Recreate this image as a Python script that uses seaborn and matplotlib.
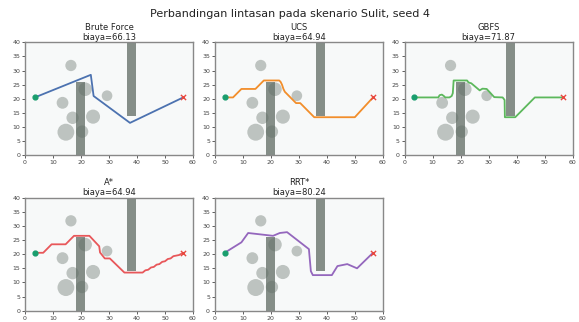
import matplotlib
matplotlib.use("Agg")
import matplotlib.pyplot as plt
import matplotlib.patches as mpatches
import seaborn as sns
import pandas as pd

# ---- data ----
title = "Perbandingan lintasan pada skenario Sulit, seed 4"
algorithms = ["Brute Force", "UCS", "GBFS", "A*", "RRT*"]
costs = [66.13, 64.94, 71.87, 64.94, 80.24]
colors = ["#4c72b0", "#f28e2b", "#5cb85c", "#e8575a", "#9467bd"]

start = (3.5, 20.5)
goal = (56.5, 20.5)

rect_x = [18.2, 36.3]
rect_y = [0.0, 14.0]
rect_w = [3.2, 3.2]
rect_h = [26.0, 26.0]

circle_x = [16.4, 21.5, 13.4, 29.3, 17.0, 24.3, 14.6, 20.4]
circle_y = [31.8, 23.4, 18.6, 21.1, 13.3, 13.7, 8.2, 8.4]
circle_r = [2.0, 2.4, 2.1, 1.9, 2.2, 2.5, 3.0, 2.2]

bf_x = [3.5, 23.5, 24.5, 37.5, 56.5]
bf_y = [20.5, 28.5, 21.0, 11.5, 20.5]

ucs_x = [3.5, 6.5, 9.5, 14.5, 17.5, 23.0, 23.5, 24.0, 24.5, 25.0, 29.0, 30.5, 35.5, 50.0, 56.5]
ucs_y = [20.5, 20.5, 23.5, 23.5, 26.5, 26.5, 26.0, 25.0, 23.5, 22.5, 18.5, 18.5, 13.5, 13.5, 20.5]

gbfs_x = [3.5, 12.0, 12.5, 13.3, 14.0, 14.5, 16.0, 16.8, 17.2, 17.5, 22.3, 22.8, 23.8, 26.8, 27.8, 29.3, 32.0, 35.0, 35.7, 35.8, 39.5, 46.5, 56.5]
gbfs_y = [20.5, 20.5, 21.3, 21.5, 21.0, 20.5, 20.5, 21.0, 22.0, 26.5, 26.5, 25.8, 25.5, 23.0, 23.6, 23.5, 20.6, 20.5, 19.6, 13.5, 13.5, 20.5, 20.5]

astar_x = [3.5, 6.5, 9.5, 14.5, 17.5, 23.0, 26.5, 26.8, 28.5, 30.3, 35.5, 42.0, 43.0, 44.0, 45.0, 46.0, 47.0, 48.0, 49.0, 50.0, 51.0, 52.0, 53.0, 54.0, 55.0, 56.5]
astar_y = [20.5, 20.5, 23.5, 23.5, 26.5, 26.5, 22.8, 20.6, 18.5, 18.5, 13.5, 13.5, 14.3, 14.5, 15.3, 15.5, 16.3, 16.5, 17.3, 17.5, 18.3, 18.5, 19.3, 19.5, 19.7, 20.5]

rrt_x = [3.5, 9.5, 11.9, 20.8, 23.2, 25.8, 33.6, 34.3, 35.0, 41.8, 43.8, 47.3, 50.8, 56.5]
rrt_y = [20.5, 24.2, 27.5, 26.5, 27.5, 27.8, 21.8, 14.0, 12.6, 12.6, 15.8, 16.5, 15.0, 20.5]

paths_x = [bf_x, ucs_x, gbfs_x, astar_x, rrt_x]
paths_y = [bf_y, ucs_y, gbfs_y, astar_y, rrt_y]

xticks = [0, 10, 20, 30, 40, 50, 60]
yticks = [0, 5, 10, 15, 20, 25, 30, 35, 40]

# ---- plot ----
sns.set_theme(style="ticks")
plt.rcParams["font.family"] = ["DejaVu Sans"]

fig, axes = plt.subplots(2, 3, figsize=(5.79, 3.22), dpi=100)
fig.subplots_adjust(left=0.0432, right=0.989, bottom=0.035, top=0.8686,
                    wspace=0.13, hspace=0.374)
axes = axes.ravel()

for i, (name, cost, col) in enumerate(zip(algorithms, costs, colors)):
    ax = axes[i]
    ax.set_facecolor("#f7f9f9")
    for cx, cy, r in zip(circle_x, circle_y, circle_r):
        ax.add_patch(mpatches.Circle((cx, cy), r, facecolor="#9aa29d",
                                     alpha=0.62, edgecolor="none", zorder=1))
    for rx, ry, rw, rh in zip(rect_x, rect_y, rect_w, rect_h):
        ax.add_patch(mpatches.Rectangle((rx, ry), rw, rh, facecolor="#5f6b63",
                                        alpha=0.75, edgecolor="none", zorder=2))
    df = pd.DataFrame({"x": paths_x[i], "y": paths_y[i]})
    sns.lineplot(data=df, x="x", y="y", sort=False, estimator=None, ax=ax,
                 color=col, linewidth=1.3, zorder=3)
    ax.scatter([start[0]], [start[1]], s=12, color="#1a9e6e", zorder=4)
    ax.scatter([goal[0]], [goal[1]], s=14, color="#e8483f", marker="x",
               linewidths=1.0, zorder=4)
    ax.set_xlim(0, 60)
    ax.set_ylim(0, 40)
    ax.set_xticks(xticks)
    ax.set_yticks(yticks)
    ax.tick_params(labelsize=4.5, length=2, width=0.6, pad=1.5, colors="#444444")
    ax.set_xlabel("")
    ax.set_ylabel("")
    ax.set_title(f"{name}\nbiaya={cost:.2f}", fontsize=6.0, pad=2,
                 linespacing=1.1, color="#222222")
    for sp in ax.spines.values():
        sp.set_color("#888888")
        sp.set_linewidth(1.0)

axes[5].set_visible(False)
fig.suptitle(title, fontsize=8, y=0.972, color="#222222")
fig.savefig("out.png", dpi=100)
